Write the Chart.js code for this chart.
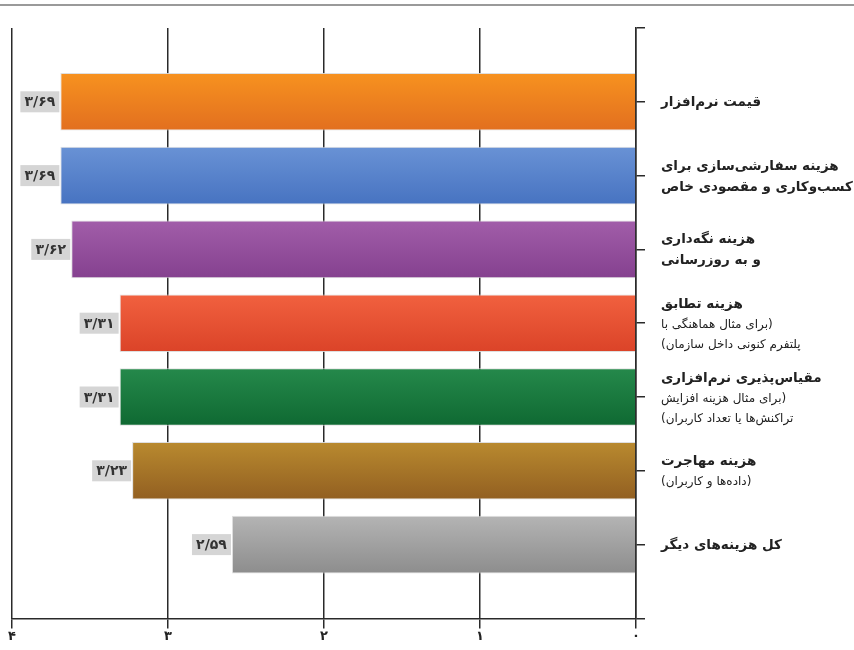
<!DOCTYPE html>
<html lang="fa">
<head>
<meta charset="utf-8">
<title>هزینه‌ها</title>
<script src="https://cdn.jsdelivr.net/npm/chart.js@4/dist/chart.umd.min.js"></script>
<style>
  html, body { margin: 0; padding: 0; background: #fff; }
  #wrap { position: relative; width: 854px; height: 650px; }
  #topline { position: absolute; left: 0; right: 0; top: 4px; border-top: 2px solid #9a9a9a; }
</style>
</head>
<body>
<div id="wrap">
  <canvas id="costChart" width="854" height="650"></canvas>
  <div id="topline"></div>
</div>
<script>
// عنوان هر ردیف و توضیح زیر آن
const titles = [
    ['قیمت نرم‌افزار'],
    ['هزینه سفارشی‌سازی برای', 'کسب‌وکاری و مقصودی خاص'],
    ['هزینه نگه‌داری', 'و به روزرسانی'],
    ['هزینه تطابق'],
    ['مقیاس‌پذیری نرم‌افزاری'],
    ['هزینه مهاجرت'],
    ['کل هزینه‌های دیگر']
];
const notes = [
    [],
    [],
    [],
    ['(برای مثال هماهنگی با', 'پلتفرم کنونی داخل سازمان)'],
    ['(برای مثال هزینه افزایش', 'تراکنش‌ها یا تعداد کاربران)'],
    ['(داده‌ها و کاربران)'],
    []
];
const scores = [3.69, 3.69, 3.62, 3.31, 3.31, 3.23, 2.59];
const axisTicks = [0, 1, 2, 3, 4];

// رنگ بالا و پایین هر میله
const topColors = ['#f7921f', '#6992d5', '#a15da9', '#f1613f', '#25894b', '#b98a2f', '#b4b4b4'];
const bottomColors = ['#e26f1f', '#4773c1', '#85418f', '#db4328', '#0f6932', '#925f21', '#8d8d8d'];

const barPct = 0.78;
const fa = s => String(s).replace(/\d/g, d => '۰۱۲۳۴۵۶۷۸۹'[d]);

// یک جای خالی در بالا و پایین تا فاصله‌ها مثل نمودار اصلی شود
const slots = ['', ...titles.map(t => t.join(' ')), ''];
const values = [null, ...scores, null];

function barGradient(c) {
    const chart = c.chart;
    const y = chart.scales.y;
    const k = c.dataIndex - 1;
    if (!y || k < 0 || k >= scores.length) return '#999';
    const cy = y.getPixelForValue(c.dataIndex);
    const half = Math.abs(y.getPixelForValue(1) - y.getPixelForValue(0)) * barPct / 2;
    const g = chart.ctx.createLinearGradient(0, cy - half, 0, cy + half);
    g.addColorStop(0, topColors[k]);
    g.addColorStop(1, bottomColors[k]);
    return g;
}

// برچسب مقدار در جعبه خاکستری کنار هر میله
const valueBoxes = {
    id: 'valueBoxes',
    afterDatasetsDraw(chart) {
        const ctx = chart.ctx;
        const meta = chart.getDatasetMeta(0);
        ctx.save();
        ctx.font = 'bold 14px "DejaVu Sans"';
        ctx.textAlign = 'center';
        ctx.textBaseline = 'middle';
        ctx.direction = 'ltr';
        meta.data.forEach((el, i) => {
            if (values[i] == null) return;
            const w = 39, h = 21;
            ctx.fillStyle = '#d5d5d5';
            ctx.fillRect(el.x - w - 1, el.y - h / 2, w, h);
            ctx.fillStyle = '#333';
            ctx.fillText(fa(values[i].toFixed(2)).replace('.', '/'), el.x - w / 2 - 1, el.y + 1);
        });
        ctx.restore();
    }
};

// عنوان‌ها سمت راست محور
const rowLabels = {
    id: 'rowLabels',
    afterDraw(chart) {
        const ctx = chart.ctx;
        const y = chart.scales.y;
        const x = y.left + 25;
        ctx.save();
        ctx.direction = 'rtl';
        ctx.textAlign = 'left';
        ctx.textBaseline = 'middle';
        ctx.fillStyle = '#222';
        titles.forEach((t, i) => {
            const lines = t.map(s => ({ s, font: 'bold 13.5px "DejaVu Sans"', lh: 21 }))
                .concat(notes[i].map(s => ({ s, font: '12px "DejaVu Sans"', lh: 20 })));
            const total = lines.reduce((a, l) => a + l.lh, 0);
            let cy = y.getPixelForValue(i + 1) - total / 2 + 1;
            lines.forEach(l => {
                ctx.font = l.font;
                ctx.fillText(l.s, x, cy + l.lh / 2);
                cy += l.lh;
            });
        });
        ctx.restore();
    }
};

const ctx = document.getElementById('costChart').getContext('2d');
new Chart(ctx, {
    type: 'bar',
    data: {
        labels: slots,
        datasets: [{
            data: values,
            backgroundColor: barGradient,
            borderColor: 'rgba(220,220,220,0.9)',
            borderWidth: 1,
            barPercentage: barPct,
            categoryPercentage: 1
        }]
    },
    options: {
        indexAxis: 'y',
        responsive: false,
        animation: false,
        layout: { padding: { top: 28, left: 12, bottom: 6, right: 0 } },
        plugins: { legend: { display: false }, tooltip: { enabled: false } },
        scales: {
            x: {
                min: axisTicks[0],
                max: axisTicks[axisTicks.length - 1],
                reverse: true,
                afterBuildTicks: s => { s.ticks = axisTicks.map(v => ({ value: v })); },
                ticks: {
                    callback: v => fa(v),
                    color: '#222',
                    font: { family: 'DejaVu Sans', size: 13, weight: 'bold' },
                    padding: 0
                },
                grid: { color: '#2a2a2a', lineWidth: 1.5, tickLength: 10 },
                border: { color: '#2a2a2a', width: 1.5 }
            },
            y: {
                position: 'right',
                offset: false,
                ticks: { display: false },
                grid: { offset: false, drawOnChartArea: false, tickLength: 9, color: '#2a2a2a', lineWidth: 1.5 },
                border: { color: '#2a2a2a', width: 1.5 },
                afterFit: s => { s.width = 218; }
            }
        }
    },
    plugins: [valueBoxes, rowLabels]
});
</script>
</body>
</html>
